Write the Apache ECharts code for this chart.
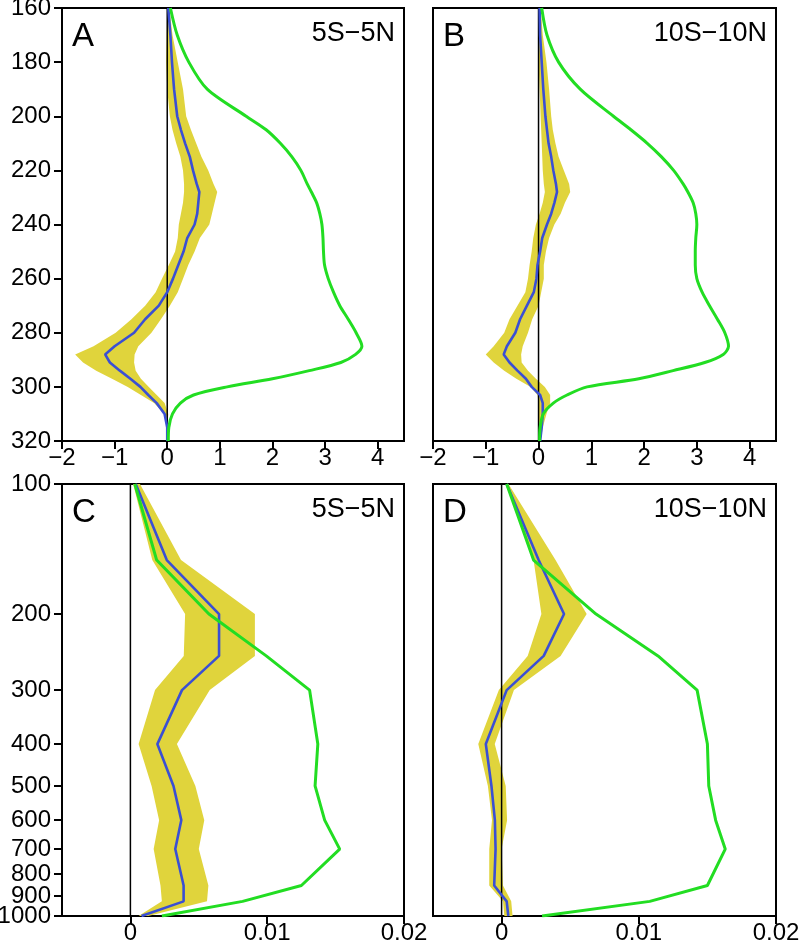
<!DOCTYPE html>
<html><head><meta charset="utf-8">
<script src="https://cdn.jsdelivr.net/npm/echarts@6/dist/echarts.min.js"></script>
<style>html,body{margin:0;padding:0;background:#fff}#c{width:799px;height:945px}</style>
</head><body><div id="c"></div>
<script>
// ---- Top panels (A, B): vertical levels 160..320 ----
const levTop = [160,170,180,190,200,205,210,215,220,225,228,232,236,240,245,250,255,260,265,270,275,280,285,288,291,294,297,300,303,306,310,315,320];
const greenA = [0.06,0.19,0.41,0.76,1.5,1.88,2.15,2.37,2.54,2.66,2.74,2.84,2.9,2.94,2.96,2.97,2.99,3.06,3.16,3.28,3.44,3.59,3.7,3.58,3.3,2.7,2.0,1.14,0.5,0.25,0.1,0.03,0.02];
const blueA  = [0.02,0.06,0.09,0.13,0.19,0.26,0.34,0.43,0.49,0.56,0.61,0.59,0.57,0.52,0.38,0.31,0.21,0.11,0.0,-0.16,-0.42,-0.63,-1.0,-1.18,-1.09,-0.9,-0.7,-0.51,-0.36,-0.2,-0.05,0.0,0.0];
const loA    = [0.0,-0.01,-0.02,0.0,0.05,0.1,0.17,0.25,0.3,0.32,0.32,0.3,0.26,0.22,0.2,0.15,0.03,-0.1,-0.22,-0.42,-0.68,-0.98,-1.4,-1.75,-1.6,-1.35,-1.05,-0.75,-0.5,-0.25,-0.05,0.0,0.0];
const hiA    = [0.04,0.1,0.2,0.3,0.36,0.45,0.55,0.65,0.78,0.88,0.95,0.9,0.85,0.8,0.62,0.52,0.4,0.3,0.2,0.05,-0.12,-0.3,-0.55,-0.62,-0.63,-0.6,-0.5,-0.35,-0.2,-0.05,0.02,0.0,0.0];
const greenB = [0.06,0.16,0.38,0.79,1.42,1.75,2.06,2.33,2.56,2.74,2.83,2.93,2.98,3.0,2.98,2.97,2.97,3.0,3.1,3.24,3.39,3.53,3.6,3.5,3.15,2.55,1.9,0.92,0.54,0.28,0.09,0.03,0.02];
const blueB  = [0.02,0.03,0.06,0.09,0.13,0.16,0.19,0.24,0.28,0.33,0.35,0.3,0.24,0.16,0.07,0.03,-0.02,-0.04,-0.09,-0.22,-0.35,-0.44,-0.6,-0.66,-0.55,-0.4,-0.24,-0.13,0.03,0.08,0.08,0.06,0.03];
const loB    = [0.0,0.0,0.0,0.02,0.04,0.05,0.06,0.07,0.08,0.1,0.12,0.08,0.02,-0.05,-0.1,-0.13,-0.17,-0.2,-0.25,-0.4,-0.55,-0.65,-0.85,-1.0,-0.85,-0.65,-0.42,-0.15,-0.02,0.0,0.0,0.0,0.0];
const hiB    = [0.04,0.08,0.15,0.2,0.24,0.27,0.32,0.38,0.48,0.58,0.6,0.5,0.42,0.3,0.2,0.14,0.1,0.1,0.05,0.0,-0.12,-0.2,-0.3,-0.33,-0.32,-0.2,-0.05,0.12,0.22,0.22,0.15,0.08,0.04];
const topTicksY = [160,180,200,220,240,260,280,300,320];
const topTicksX = [-2,-1,0,1,2,3,4];

// ---- Bottom panels (C, D): pressure levels 100..1000 ----
const levBot = [100,150,200,250,300,400,500,600,700,850,925,1000];
const greenC = [0.00032,0.00192,0.00574,0.00993,0.0131,0.0137,0.0135,0.0142,0.0153,0.0125,0.0082,0.0023];
const blueC  = [0.00039,0.00266,0.00648,0.00648,0.00377,0.00197,0.00315,0.00372,0.00328,0.00389,0.00389,0.00081];
const loC    = [0.0002,0.0016,0.004,0.0039,0.0018,0.0006,0.00155,0.0021,0.0017,0.0022,0.0023,0.0006];
const hiC    = [0.0007,0.0037,0.0091,0.0091,0.0058,0.0034,0.00475,0.0054,0.005,0.0057,0.0056,0.0013];
const greenD = [0.00037,0.00233,0.00688,0.0114,0.01425,0.015,0.0151,0.0156,0.0163,0.015,0.0108,0.00295];
const blueD  = [0.00037,0.0027,0.00455,0.00307,0.00037,-0.00115,-0.00074,-0.00049,-0.00044,-0.00054,0.00037,0.00049];
const loD    = [0.0003,0.00233,0.0029,0.0019,-0.0002,-0.0017,-0.001,-0.0007,-0.0009,-0.0009,0.0001,0.0002];
const hiD    = [0.0005,0.00393,0.0062,0.0043,0.0009,-0.0005,0.0003,0.0004,0.0,0.0001,0.0007,0.0008];
const botTicksY = [100,200,300,400,500,600,700,800,900,1000];
const botLabelsMain = [100,200,300,400,500,600,700,800,1000];
const botLabelsExtra = [900];
const botTicksX = [0,0.01,0.02];

const panelLetters = ['A','B','C','D'];
const panelRegions = ['5S\u22125N','10S\u221210N','5S\u22125N','10S\u221210N'];

const FONT = '"Liberation Sans", Arial, Helvetica, sans-serif';
const YELLOW = '#e0d43c', BLUE = '#3a4fd4', GREEN = '#22dd22';

const grids = [
  {left:62, top:8, width:342, height:433},
  {left:433, top:8, width:343, height:433},
  {left:62, top:484, width:342, height:432},
  {left:433, top:484, width:343, height:432}
];

const minus = s => String(s).replace('-', '\u2212');
const L10 = v => Math.log10(v);

function xAxisFor(i){
  const top = i < 2;
  const ticks = top ? topTicksX : botTicksX;
  return {
    type:'value', gridIndex:i,
    min: top ? -2 : -0.005, max: top ? 4.5 : 0.02,
    axisLine:{show:true, onZero:false, lineStyle:{color:'#000', width:2}},
    axisTick:{show:true, customValues:ticks, length:8, inside:false, lineStyle:{color:'#000', width:2}},
    axisLabel:{show:true, customValues:ticks, margin:5, color:'#000', fontSize:24, fontFamily:FONT,
      showMinLabel:true, showMaxLabel:true, hideOverlap:false,
      formatter: v => top ? minus(v) : (Math.abs(v) < 1e-12 ? '0' : v.toFixed(2))},
    splitLine:{show:false}
  };
}
function yAxisFor(i){
  const top = i < 2;
  const showLab = (i === 0 || i === 2);
  const ticks = top ? topTicksY : botTicksY.map(L10);
  const labs = top ? topTicksY : botLabelsMain.map(L10);
  return {
    type:'value', gridIndex:i, inverse:true,
    min: top ? 160 : 2, max: top ? 320 : 3,
    axisLine:{show:true, onZero:false, lineStyle:{color:'#000', width:2}},
    axisTick:{show:showLab, customValues:ticks, length:8, inside:false, lineStyle:{color:'#000', width:2}},
    axisLabel:{show:showLab, customValues:labs, margin:11, color:'#000', fontSize:24, fontFamily:FONT,
      showMinLabel:true, showMaxLabel:true, hideOverlap:false,
      formatter: v => top ? String(Math.round(v)) : String(Math.round(Math.pow(10, v)))},
    splitLine:{show:false}
  };
}
// extra label-only axis on panel C for the 900 hPa label
const yExtra = {
  type:'value', gridIndex:2, inverse:true, min:2, max:3, position:'left', offset:0,
  axisLine:{show:false}, axisTick:{show:false}, splitLine:{show:false},
  axisLabel:{show:true, customValues:botLabelsExtra.map(L10), margin:11, color:'#000', fontSize:24, fontFamily:FONT,
    showMinLabel:true, showMaxLabel:true,
    formatter: v => String(Math.round(Math.pow(10, v)))}
};

const panels = [
  {lev:levTop, green:greenA, blue:blueA, lo:loA, hi:hiA, yt:v=>v, y0:160, y1:320, smooth:0.3},
  {lev:levTop, green:greenB, blue:blueB, lo:loB, hi:hiB, yt:v=>v, y0:160, y1:320, smooth:0.3},
  {lev:levBot, green:greenC, blue:blueC, lo:loC, hi:hiC, yt:L10, y0:2, y1:3, smooth:false},
  {lev:levBot, green:greenD, blue:blueD, lo:loD, hi:hiD, yt:L10, y0:2, y1:3, smooth:false}
];

const series = [];
panels.forEach((p, i) => {
  series.push({
    type:'custom', xAxisIndex:i, yAxisIndex:i, silent:true,
    data:[[p.lo[0], p.yt(p.lev[0])]],
    renderItem:(params, api) => {
      const pts = [];
      p.lev.forEach((l, k) => pts.push(api.coord([p.lo[k], p.yt(l)])));
      for (let k = p.lev.length - 1; k >= 0; k--) pts.push(api.coord([p.hi[k], p.yt(p.lev[k])]));
      return {type:'polygon', shape:{points:pts}, style:{fill:YELLOW, stroke:null}};
    }
  });
  series.push({
    type:'line', xAxisIndex:i, yAxisIndex:i, silent:true, symbol:'none',
    data:[[0, p.y0],[0, p.y1]], lineStyle:{color:'#000', width:1.5}
  });
  series.push({
    type:'line', xAxisIndex:i, yAxisIndex:i, silent:true, symbol:'none',
    data:p.lev.map((l,k)=>[p.blue[k], p.yt(l)]), lineStyle:{color:BLUE, width:2.6}
  });
  series.push({
    type:'line', xAxisIndex:i, yAxisIndex:i, silent:true, symbol:'none', smooth:p.smooth,
    data:p.lev.map((l,k)=>[p.green[k], p.yt(l)]), lineStyle:{color:GREEN, width:3}
  });
});

const graphic = [];
grids.forEach((g, i) => {
  graphic.push({type:'text', x:g.left + 10, y:g.top + 12, z:100,
    style:{text:panelLetters[i], fontSize:33, fontFamily:FONT, fill:'#000', verticalAlign:'top', align:'left'}});
  graphic.push({type:'text', x:g.left + g.width - 9, y:g.top + 12, z:100,
    style:{text:panelRegions[i], fontSize:27, fontFamily:FONT, fill:'#000', verticalAlign:'top', align:'right'}});
});

const chart = echarts.init(document.getElementById('c'));
chart.setOption({
  animation:false,
  backgroundColor:'#fff',
  grid: grids.map(g => Object.assign({show:true, borderColor:'#000', borderWidth:2, backgroundColor:'transparent',
    containLabel:false, outerBoundsMode:'none'}, g)),
  xAxis: [0,1,2,3].map(xAxisFor),
  yAxis: [0,1,2,3].map(yAxisFor).concat([yExtra]),
  series: series,
  graphic: graphic
});
</script></body></html>
